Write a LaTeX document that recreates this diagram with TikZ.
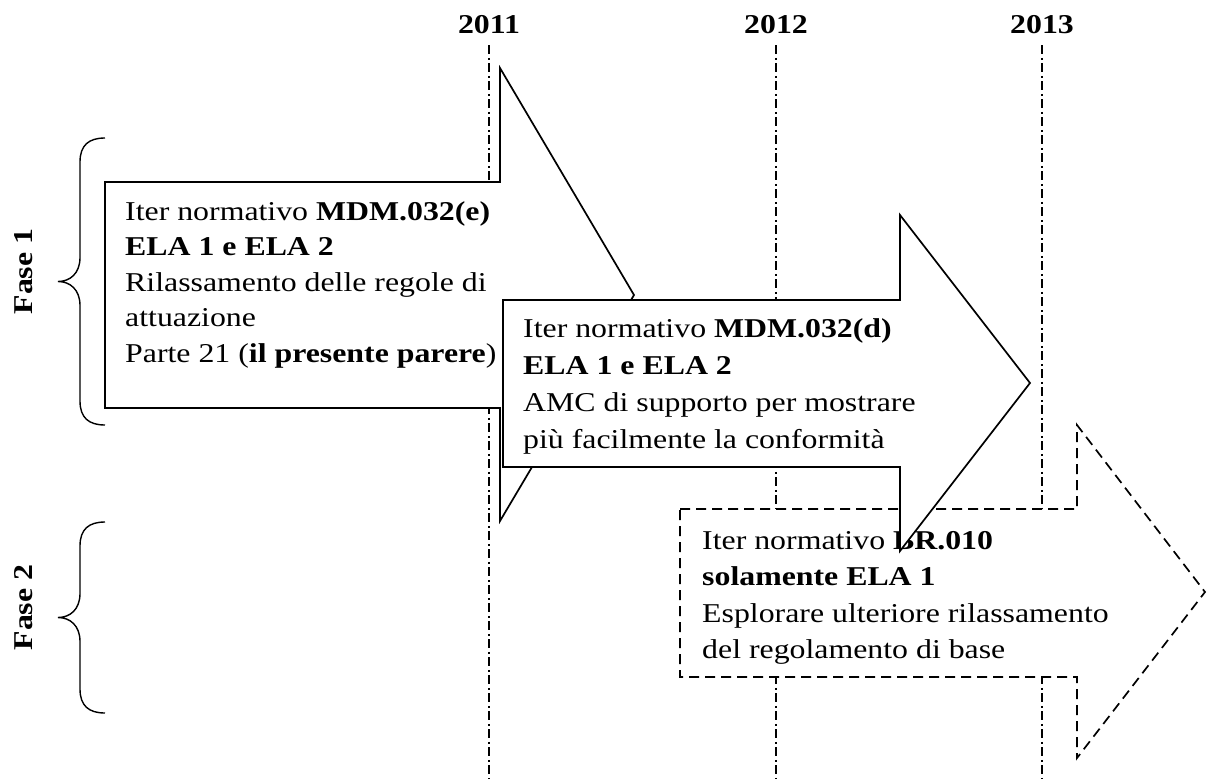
\documentclass[tikz,border=0pt]{standalone}
\usepackage{fontspec}
\setmainfont[FakeStretch=1.17]{Liberation Serif}
\usetikzlibrary{calc}

\begin{document}
\begin{tikzpicture}[x=1pt,y=-1pt,
  freccia/.style={draw,line width=1.7pt,fill=white,line join=miter},
  tratteggio/.style={dash pattern=on 10pt off 6pt},
  linea/.style={line width=1.3pt,dash pattern=on 9pt off 3.5pt on 2pt off 3.5pt},
  testo/.style={anchor=north west,align=left,inner sep=0pt},
  anno/.style={font=\fontsize{27.2}{34}\selectfont\bfseries,inner sep=0pt},
  fase/.style={font=\fontsize{27.2}{34}\selectfont\bfseries,rotate=90,inner sep=0pt}]
\useasboundingbox (0,0) rectangle (1207,781);

% Years and time lines
\foreach \anno/\x in {2011/489,2012/776,2013/1042}{
  \node[anno] (a\anno) at (\x,25) {\anno};
  \coordinate (f\anno) at (\x,778);
  \draw[linea] ([yshift=-11pt]a\anno.south) -- (f\anno);
}

% Phases
\foreach \su/\giu/\nome in {138/425/1,522/713/2}{
  \pgfmathsetmacro\mezzo{(\su+\giu)/2}
  \draw[line width=1.4pt] (105,\su) .. controls (89,\su) and (80,\su+7) .. (80,\su+24)
    -- (80,\mezzo-24) .. controls (80,\mezzo-8) and (70,\mezzo) .. (58,\mezzo)
    .. controls (70,\mezzo) and (80,\mezzo+8) .. (80,\mezzo+24)
    -- (80,\giu-24) .. controls (80,\giu-7) and (89,\giu) .. (105,\giu);
  \node[fase] (fase\nome) at (24,\mezzo-10) {Fase \nome};
}

% MDM.032(e)
\draw[freccia] (105,182) -- (500,182) -- (500,68) -- (634,295) -- (500,521) -- (500,408) -- (105,408) -- cycle;
\node[testo,font=\fontsize{27.2}{35.5}\selectfont] (iterE) at (125,201)
  {Iter normativo \textbf{MDM.032(e)}\\ \textbf{ELA 1 e ELA 2}\\ Rilassamento delle regole di\\ attuazione\\ Parte 21 (\textbf{il presente parere})};

% BR.010
\draw[freccia,tratteggio] (680,509) -- (1077,509) -- (1077,425) -- (1205,592) -- (1077,758) -- (1077,677) -- (680,677) -- cycle;
\node[testo,font=\fontsize{27.2}{36.5}\selectfont] (iterBR) at (702,531)
  {Iter normativo \textbf{BR.010}\\ \textbf{solamente ELA 1}\\ Esplorare ulteriore rilassamento\\ del regolamento di base};

% MDM.032(d)
\draw[freccia] (503,300) -- (900,300) -- (900,215) -- (1030,383) -- (900,551) -- (900,467) -- (503,467) -- cycle;
\node[testo,font=\fontsize{27.2}{37}\selectfont] (iterD) at (523,318)
  {Iter normativo \textbf{MDM.032(d)}\\ \textbf{ELA 1 e ELA 2}\\ AMC di supporto per mostrare\\ più facilmente la conformità};

\end{tikzpicture}
\end{document}
